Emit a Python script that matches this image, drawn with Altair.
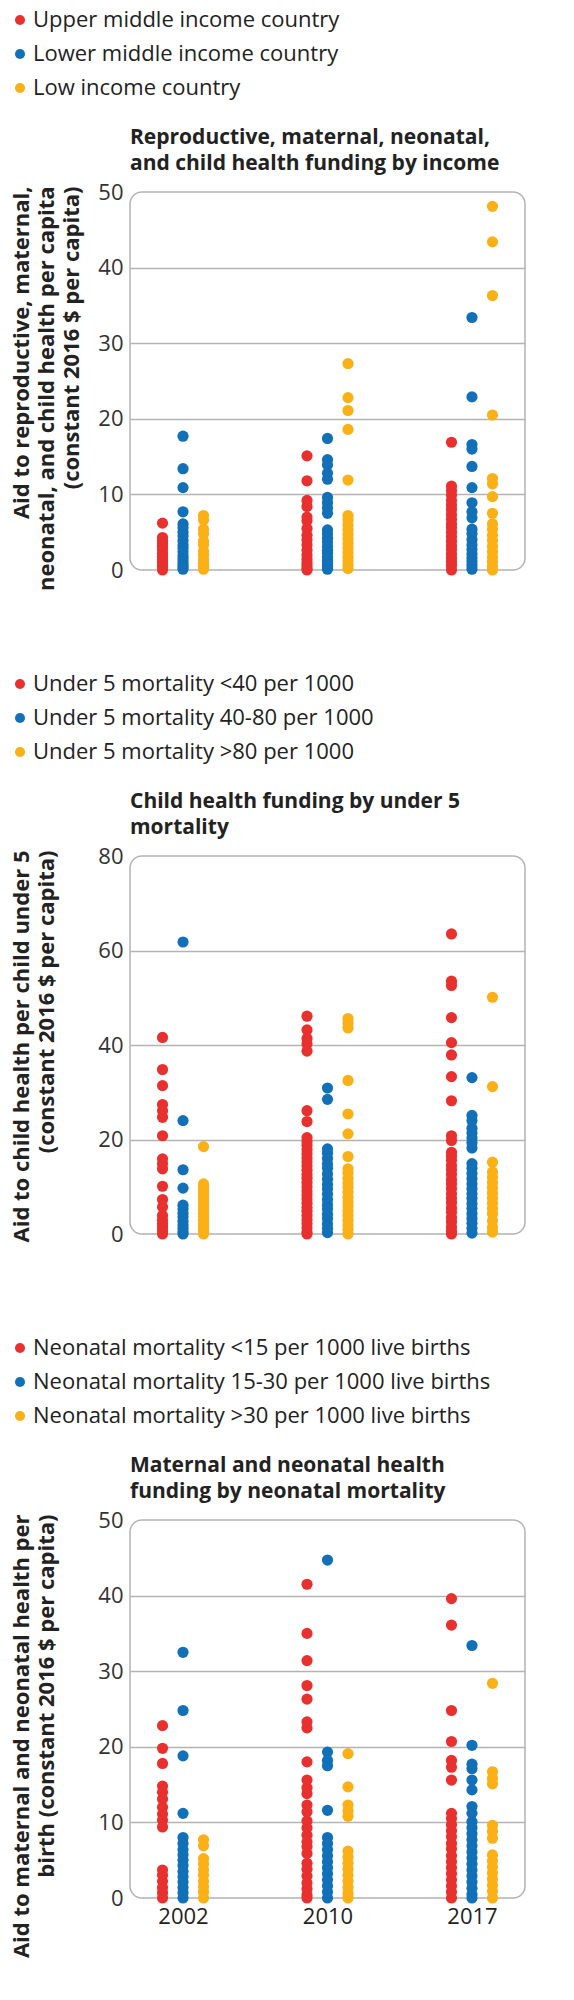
import altair as alt
import pandas as pd

FONT = "Open Sans"
YEARS = ["2002", "2010", "2017"]
COLORS = ["#e8312f", "#1170b8", "#fbb016"]
GRID = "#b3b3b3"

INCOME_GROUPS = ["Upper middle income country", "Lower middle income country", "Low income country"]
U5_GROUPS = ["Under 5 mortality <40 per 1000", "Under 5 mortality 40-80 per 1000", "Under 5 mortality >80 per 1000"]
NEO_GROUPS = ["Neonatal mortality <15 per 1000 live births",
              "Neonatal mortality 15-30 per 1000 live births",
              "Neonatal mortality >30 per 1000 live births"]

# Panel 1: RMNCH aid per capita by income
P1_2002_UPPER = [6.2, 4.3, 3.9, 3.5, 3.1, 2.7, 2.2, 1.8, 1.4, 1.0, 0.6, 0.3, 0.0]
P1_2002_LOWER = [17.7, 13.4, 10.9, 7.7, 6.1, 5.6, 5.0, 4.5, 3.9, 3.3, 2.9, 2.4, 1.9, 1.5, 1.1, 0.7, 0.4, 0.1]
P1_2002_LOW = [7.2, 6.6, 5.4, 4.8, 3.8, 3.3, 2.5, 2.0, 1.4, 0.9, 0.5, 0.1]
P1_2010_UPPER = [15.1, 11.8, 9.2, 8.4, 7.0, 6.5, 5.5, 4.6, 4.0, 3.3, 2.6, 2.0, 1.5, 1.0, 0.6, 0.2, 0.0]
P1_2010_LOWER = [17.4, 14.6, 13.9, 12.8, 12.0, 9.6, 8.9, 8.2, 7.5, 5.3, 4.8, 4.2, 3.7, 3.1, 2.6, 2.2, 1.7, 1.3, 0.9, 0.5, 0.1]
P1_2010_LOW = [27.3, 22.8, 21.1, 18.6, 11.9, 7.2, 6.6, 6.0, 5.3, 4.7, 4.1, 3.5, 2.9, 2.3, 1.7, 1.2, 0.7, 0.2]
P1_2017_UPPER = [16.9, 11.1, 10.5, 9.9, 9.2, 8.6, 8.0, 7.3, 6.7, 6.1, 5.6, 5.0, 4.4, 3.8, 3.2, 2.7, 2.1, 1.6, 1.1, 0.6, 0.0]
P1_2017_LOWER = [33.4, 22.9, 16.6, 16.0, 13.7, 10.9, 8.9, 7.7, 6.9, 5.4, 4.8, 4.0, 3.3, 2.7, 2.1, 1.6, 1.1, 0.6, 0.1]
P1_2017_LOW = [48.1, 43.4, 36.3, 20.5, 12.1, 11.4, 9.7, 7.5, 6.1, 5.4, 4.6, 3.9, 3.1, 2.4, 1.7, 1.1, 0.5, 0.0]

# Panel 2: child health aid per child under 5 by under 5 mortality
P2_2002_LT40 = [41.6, 34.8, 31.4, 27.4, 26.1, 24.7, 20.8, 15.9, 14.9, 13.8, 10.1, 7.3, 5.7, 3.9, 2.9, 2.2, 1.5, 0.7, 0.0]
P2_2002_40_80 = [61.8, 24.0, 13.6, 9.7, 6.1, 5.3, 4.4, 3.6, 2.7, 1.9, 1.2, 0.5, 0.0]
P2_2002_GT80 = [18.5, 10.6, 9.9, 9.1, 8.3, 7.5, 6.8, 6.0, 5.2, 4.4, 3.7, 2.9, 2.1, 1.4, 0.7, 0.0]
P2_2010_LT40 = [46.1, 43.2, 41.4, 40.2, 38.7, 26.1, 23.8, 20.4, 19.6, 18.8, 17.9, 17.0, 16.1, 15.3, 14.4, 13.5,
                12.6, 11.8, 10.9, 10.0, 9.1, 8.3, 7.4, 6.5, 5.6, 4.8, 3.9, 3.0, 2.2, 1.3, 0.4, 0.0]
P2_2010_40_80 = [30.9, 28.5, 18.0, 17.1, 16.0, 14.8, 13.9, 12.7, 11.6, 10.5, 9.5, 8.4, 7.3, 6.2, 5.3, 4.2, 3.3, 2.1, 1.2, 0.3]
P2_2010_GT80 = [45.6, 44.6, 43.6, 32.5, 25.4, 21.2, 16.4, 13.8, 12.9, 11.8, 10.8, 9.9, 8.9, 7.8, 6.8, 5.9, 4.9, 3.9,
                2.9, 1.9, 1.0, 0.0]
P2_2017_LT40 = [63.5, 53.5, 52.6, 45.8, 40.5, 37.9, 33.3, 28.2, 20.8, 19.8, 17.3, 16.5, 15.6, 14.5, 13.6, 12.6, 11.5,
                10.6, 9.6, 8.5, 7.5, 6.6, 5.5, 4.6, 3.5, 2.6, 1.5, 0.6, 0.0]
P2_2017_40_80 = [33.1, 25.1, 24.0, 22.4, 21.4, 20.3, 19.3, 18.2, 14.9, 13.9, 12.8, 11.7, 10.6, 9.6, 8.5, 7.5, 6.4, 5.4,
                 4.3, 3.3, 2.3, 1.2, 0.2]
P2_2017_GT80 = [50.1, 31.2, 15.2, 13.1, 12.0, 10.9, 9.8, 8.7, 7.6, 6.5, 5.4, 4.3, 2.8, 1.4, 0.4]

# Panel 3: maternal and neonatal health aid per birth by neonatal mortality
P3_2002_LT15 = [22.8, 19.8, 17.8, 14.8, 14.0, 13.1, 12.0, 11.1, 10.3, 9.4, 3.7, 3.0, 2.2, 1.4, 0.7, 0.0]
P3_2002_15_30 = [32.5, 24.8, 18.8, 11.2, 8.0, 7.2, 6.4, 5.7, 5.0, 4.3, 3.5, 2.8, 2.1, 1.4, 0.7, 0.0]
P3_2002_GT30 = [7.7, 6.9, 5.2, 4.5, 3.7, 3.0, 2.2, 1.5, 0.8, 0.0]
P3_2010_LT15 = [41.5, 35.0, 31.4, 28.1, 26.3, 23.3, 22.5, 18.0, 15.6, 14.6, 13.8, 12.3, 11.4, 10.2, 9.3, 8.3, 7.4,
                6.8, 5.9, 4.6, 3.8, 2.9, 2.0, 1.2, 0.4, 0.0]
P3_2010_15_30 = [44.7, 19.3, 18.2, 17.5, 11.6, 8.0, 7.2, 6.4, 5.6, 4.8, 4.0, 3.2, 2.4, 1.6, 0.8, 0.0]
P3_2010_GT30 = [19.1, 14.7, 12.3, 11.5, 10.8, 6.2, 5.4, 4.6, 3.8, 3.0, 2.2, 1.4, 0.6, 0.0]
P3_2017_LT15 = [39.6, 36.1, 24.8, 20.7, 18.2, 17.3, 15.6, 11.2, 10.5, 9.7, 8.9, 8.1, 7.2, 6.5, 5.6, 4.8, 4.0, 3.2,
                2.4, 1.6, 0.8, 0.0]
P3_2017_15_30 = [33.4, 20.2, 17.7, 17.1, 15.6, 14.3, 12.1, 11.2, 10.1, 9.3, 8.5, 7.7, 6.9, 6.1, 5.3, 4.5, 3.7, 2.9,
                 2.1, 1.3, 0.5, 0.0]
P3_2017_GT30 = [28.4, 16.7, 15.8, 15.1, 9.6, 8.8, 7.9, 5.7, 4.9, 4.1, 3.3, 2.5, 1.7, 0.9, 0.0]


def build(groups, series):
    rows = []
    for (year, gi), vals in series.items():
        for v in vals:
            rows.append({"year": year, "group": groups[gi], "value": v})
    return pd.DataFrame(rows)


df1 = build(INCOME_GROUPS, {
    ("2002", 0): P1_2002_UPPER, ("2002", 1): P1_2002_LOWER, ("2002", 2): P1_2002_LOW,
    ("2010", 0): P1_2010_UPPER, ("2010", 1): P1_2010_LOWER, ("2010", 2): P1_2010_LOW,
    ("2017", 0): P1_2017_UPPER, ("2017", 1): P1_2017_LOWER, ("2017", 2): P1_2017_LOW,
})
df2 = build(U5_GROUPS, {
    ("2002", 0): P2_2002_LT40, ("2002", 1): P2_2002_40_80, ("2002", 2): P2_2002_GT80,
    ("2010", 0): P2_2010_LT40, ("2010", 1): P2_2010_40_80, ("2010", 2): P2_2010_GT80,
    ("2017", 0): P2_2017_LT40, ("2017", 1): P2_2017_40_80, ("2017", 2): P2_2017_GT80,
})
df3 = build(NEO_GROUPS, {
    ("2002", 0): P3_2002_LT15, ("2002", 1): P3_2002_15_30, ("2002", 2): P3_2002_GT30,
    ("2010", 0): P3_2010_LT15, ("2010", 1): P3_2010_15_30, ("2010", 2): P3_2010_GT30,
    ("2017", 0): P3_2017_LT15, ("2017", 1): P3_2017_15_30, ("2017", 2): P3_2017_GT30,
})


def panel(df, groups, ymax, ystep, ytitle, title, show_x):
    ticks = list(range(0, ymax + 1, ystep))
    if show_x:
        xaxis = alt.Axis(title=None, labelAngle=0, domain=False, ticks=False, grid=False,
                         labelFontSize=22, labelFont=FONT, labelColor="#222", labelPadding=8)
    else:
        xaxis = None
    return alt.Chart(df).mark_circle(size=125, opacity=1).encode(
        x=alt.X("year:N", sort=YEARS, axis=xaxis,
                scale=alt.Scale(type="point", domain=YEARS, padding=0.367)),
        xOffset=alt.XOffset("group:N", sort=groups,
                            scale=alt.Scale(domain=groups, range=[-20.5, 20.5], padding=0)),
        y=alt.Y("value:Q",
                scale=alt.Scale(domain=[0, ymax], nice=False, zero=True),
                axis=alt.Axis(values=ticks, grid=True, gridColor=GRID, gridWidth=1.5,
                              gridOpacity={"condition": {"test": f"datum.value <= 0 || datum.value >= {ymax}",
                                                         "value": 0}, "value": 1},
                              domain=False, ticks=False,
                              labelFontSize=22, labelFont=FONT, labelColor="#333", labelPadding=7,
                              title=ytitle, titleFont=FONT, titleFontSize=22, titleFontWeight="bold",
                              titleColor="#222", titleAngle=270, titleAlign="right", titleBaseline="top",
                              titleX=-119, titleY=-6, titleLineHeight=25)),
        color=alt.Color("group:N", sort=groups,
                        scale=alt.Scale(domain=groups, range=COLORS),
                        legend=alt.Legend(title=None, orient="none", legendX=-121, legendY=-183,
                                          direction="vertical", symbolType="circle", symbolSize=100,
                                          symbolStrokeWidth=0, labelFontSize=22, labelFont=FONT,
                                          labelColor="#222", rowPadding=12, labelOffset=2, padding=0,
                                          labelLimit=600)),
    ).properties(
        width=395, height=378,
        title=alt.TitleParams(text=title, anchor="start", frame="group", orient="top",
                              font=FONT, fontSize=21, fontWeight="bold", color="#222",
                              lineHeight=26, offset=-165),
    )


p1 = panel(df1, INCOME_GROUPS, 50, 10,
           ["Aid to reproductive, maternal,", "neonatal, and child health per capita",
            "(constant 2016 $ per capita)"],
           ["Reproductive, maternal, neonatal,", "and child health funding by income"], False)
p2 = panel(df2, U5_GROUPS, 80, 20,
           ["Aid to child health per child under 5", "(constant 2016 $ per capita)"],
           ["Child health funding by under 5", "mortality"], False)
p3 = panel(df3, NEO_GROUPS, 50, 10,
           ["Aid to maternal and neonatal health per", "birth (constant 2016 $ per capita)"],
           ["Maternal and neonatal health", "funding by neonatal mortality"], True)

chart = alt.vconcat(p1, p2, p3, spacing=286, bounds="flush").resolve_scale(
    color="independent", y="independent", x="independent", xOffset="independent"
).resolve_legend(color="independent").properties(
    padding={"left": 0, "top": 0, "right": 0, "bottom": 0}
).configure_view(
    stroke=GRID, strokeWidth=1.5, cornerRadius=12
)

chart.save("out.html", embed_options={"renderer": "svg", "actions": False})
